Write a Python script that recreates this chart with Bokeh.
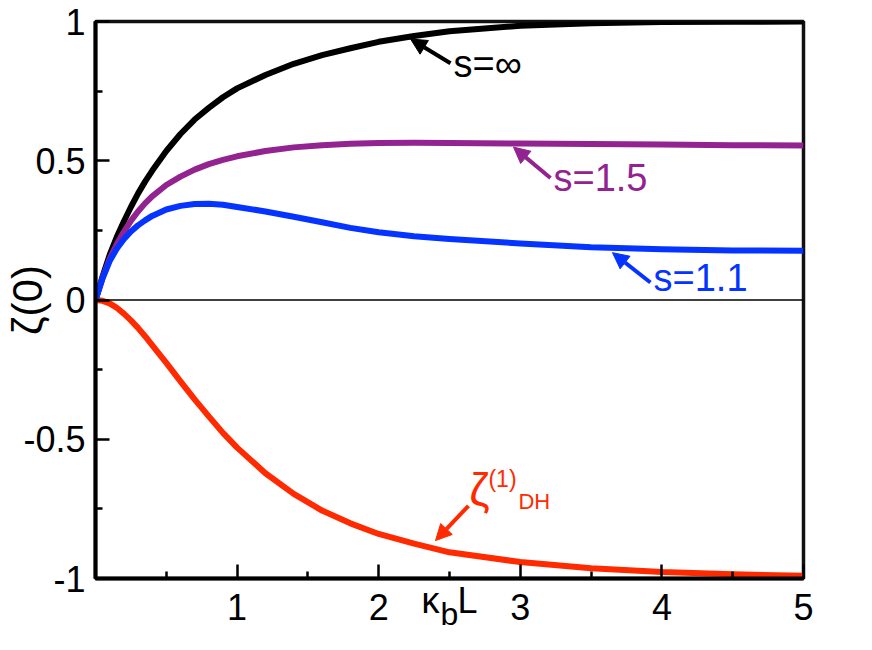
import math
from bokeh.plotting import figure
from bokeh.models import FixedTicker, Span, Label, Arrow, NormalHead, Range1d, LinearAxis
from bokeh.embed import file_html
from bokeh.resources import INLINE

# ---- data ----
kappa_L = [0.0, 0.05, 0.1, 0.15, 0.2, 0.25, 0.3, 0.35, 0.4, 0.5, 0.6, 0.7, 0.8, 0.9, 1.0,
           1.2, 1.4, 1.6, 1.8, 2.0, 2.25, 2.5, 3.0, 3.5, 4.0, 4.5, 5.0]
zeta_s_inf = [0.0, 0.085, 0.162, 0.226, 0.282, 0.334, 0.382, 0.425, 0.464, 0.535, 0.596,
              0.648, 0.690, 0.728, 0.760, 0.808, 0.848, 0.879, 0.904, 0.927, 0.948, 0.965,
              0.985, 0.994, 0.998, 0.999, 1.0]
zeta_s_15 = [0.0, 0.080, 0.148, 0.200, 0.245, 0.284, 0.318, 0.347, 0.372, 0.413, 0.443,
             0.468, 0.488, 0.503, 0.516, 0.535, 0.548, 0.556, 0.561, 0.564, 0.565, 0.564,
             0.562, 0.560, 0.558, 0.556, 0.555]
zeta_s_11 = [0.0, 0.078, 0.140, 0.184, 0.218, 0.246, 0.268, 0.286, 0.302, 0.325, 0.338,
             0.345, 0.346, 0.342, 0.334, 0.318, 0.299, 0.279, 0.259, 0.243, 0.229, 0.219,
             0.203, 0.189, 0.182, 0.178, 0.177]
zeta_dh = [0.0, -0.003, -0.012, -0.028, -0.049, -0.073, -0.100, -0.130, -0.162, -0.226,
           -0.292, -0.357, -0.418, -0.477, -0.530, -0.622, -0.696, -0.756, -0.802, -0.840,
           -0.875, -0.906, -0.941, -0.963, -0.977, -0.985, -0.990]

x_major = [1, 2, 3, 4, 5]
x_minor = [0.5, 1.5, 2.5, 3.5, 4.5]
y_major = [-1, -0.5, 0, 0.5, 1]
y_labels = ["-1", "-0.5", "0", "0.5", "1"]
y_minor = [-0.75, -0.25, 0.25, 0.75]

BLACK = "#000000"
PURPLE = "#922390"
BLUE = "#0533FF"
RED = "#FF2A00"
FONT = "Liberation Sans"

series = [
    (zeta_dh, RED),
    (zeta_s_inf, BLACK),
    (zeta_s_15, PURPLE),
    (zeta_s_11, BLUE),
]

# annotation arrows: (x_tail, y_tail, x_tip, y_tip, colour)
arrows = [
    (2.507, 0.850, 2.225, 0.937, BLACK),
    (3.213, 0.438, 2.952, 0.549, PURPLE),
    (3.919, 0.063, 3.651, 0.170, BLUE),
    (2.634, -0.739, 2.401, -0.864, RED),
]
# annotation texts: (x, y, text, size, colour)
texts = [
    (2.528, 0.846, "s=\u221e", "38px", BLACK),
    (3.234, 0.438, "s=1.5", "38px", PURPLE),
    (3.941, 0.080, "s=1.1", "38px", BLUE),
    (2.640, -0.682, "\u03b6", "46px", RED),
    (2.775, -0.642, "(1)", "23px", RED),
    (2.987, -0.724, "DH", "22px", RED),
]

p = figure(width=856, height=634, title=None,
           x_range=Range1d(0, 5), y_range=Range1d(-1, 1),
           output_backend="svg", toolbar_location=None,
           min_border_left=95, min_border_right=53,
           min_border_top=21, min_border_bottom=54)

p.grid.visible = False
p.outline_line_color = "#111111"
p.outline_line_width = 3.5
p.background_fill_color = "white"
p.border_fill_color = "white"

for ax in (p.xaxis[0], p.yaxis[0]):
    ax.axis_line_width = 4
    ax.axis_line_color = BLACK
    ax.major_tick_in = 14
    ax.major_tick_out = 0
    ax.minor_tick_in = 7
    ax.minor_tick_out = 0
    ax.major_tick_line_width = 2.5
    ax.minor_tick_line_width = 2.5
    ax.major_tick_line_color = BLACK
    ax.minor_tick_line_color = BLACK
    ax.major_label_text_font = FONT
    ax.major_label_text_font_size = "36px"
    ax.major_label_text_color = BLACK
    ax.axis_label_text_font = FONT
    ax.axis_label_text_font_style = "normal"
    ax.axis_label_text_color = BLACK

xa = p.xaxis[0]
xa.ticker = FixedTicker(ticks=x_major, minor_ticks=x_minor)
xa.major_label_standoff = 15
xa.axis_label = "\u03ba\u2002L"
xa.axis_label_text_font_size = "36px"
xa.axis_label_standoff = -43

ya = p.yaxis[0]
ya.ticker = FixedTicker(ticks=y_major, minor_ticks=y_minor)
ya.major_label_overrides = {v: s for v, s in zip(y_major, y_labels)}
ya.major_label_standoff = 10
ya.axis_label = "\u03b6(0)"
ya.axis_label_text_font_size = "42px"
ya.axis_label_standoff = -31

# subscript "b" of the x-axis title, on a second, bare axis below
sub_axis = LinearAxis(ticker=FixedTicker(ticks=[]), axis_line_color=None,
                      major_tick_line_color=None, minor_tick_line_color=None,
                      major_label_standoff=0, axis_label="b",
                      axis_label_text_font=FONT, axis_label_text_font_style="normal",
                      axis_label_text_font_size="32px", axis_label_text_color=BLACK,
                      axis_label_standoff=-28)
p.add_layout(sub_axis, "below")

p.add_layout(Span(location=0, dimension="width", line_color=BLACK, line_width=1.5))

for ys, col in series:
    p.line(kappa_L, ys, line_color=col, line_width=6, line_join="round")

for xs, ys, xe, ye, col in arrows:
    p.add_layout(Arrow(x_start=xs, y_start=ys, x_end=xe, y_end=ye,
                       line_color=col, line_width=4,
                       end=NormalHead(size=16, fill_color=col, line_color=col, line_width=1)))

for x, y, t, fs, col in texts:
    p.add_layout(Label(x=x, y=y, text=t, text_font=FONT, text_font_size=fs,
                       text_color=col, text_align="left", text_baseline="alphabetic"))

open("out.html", "w").write(file_html(p, INLINE))
